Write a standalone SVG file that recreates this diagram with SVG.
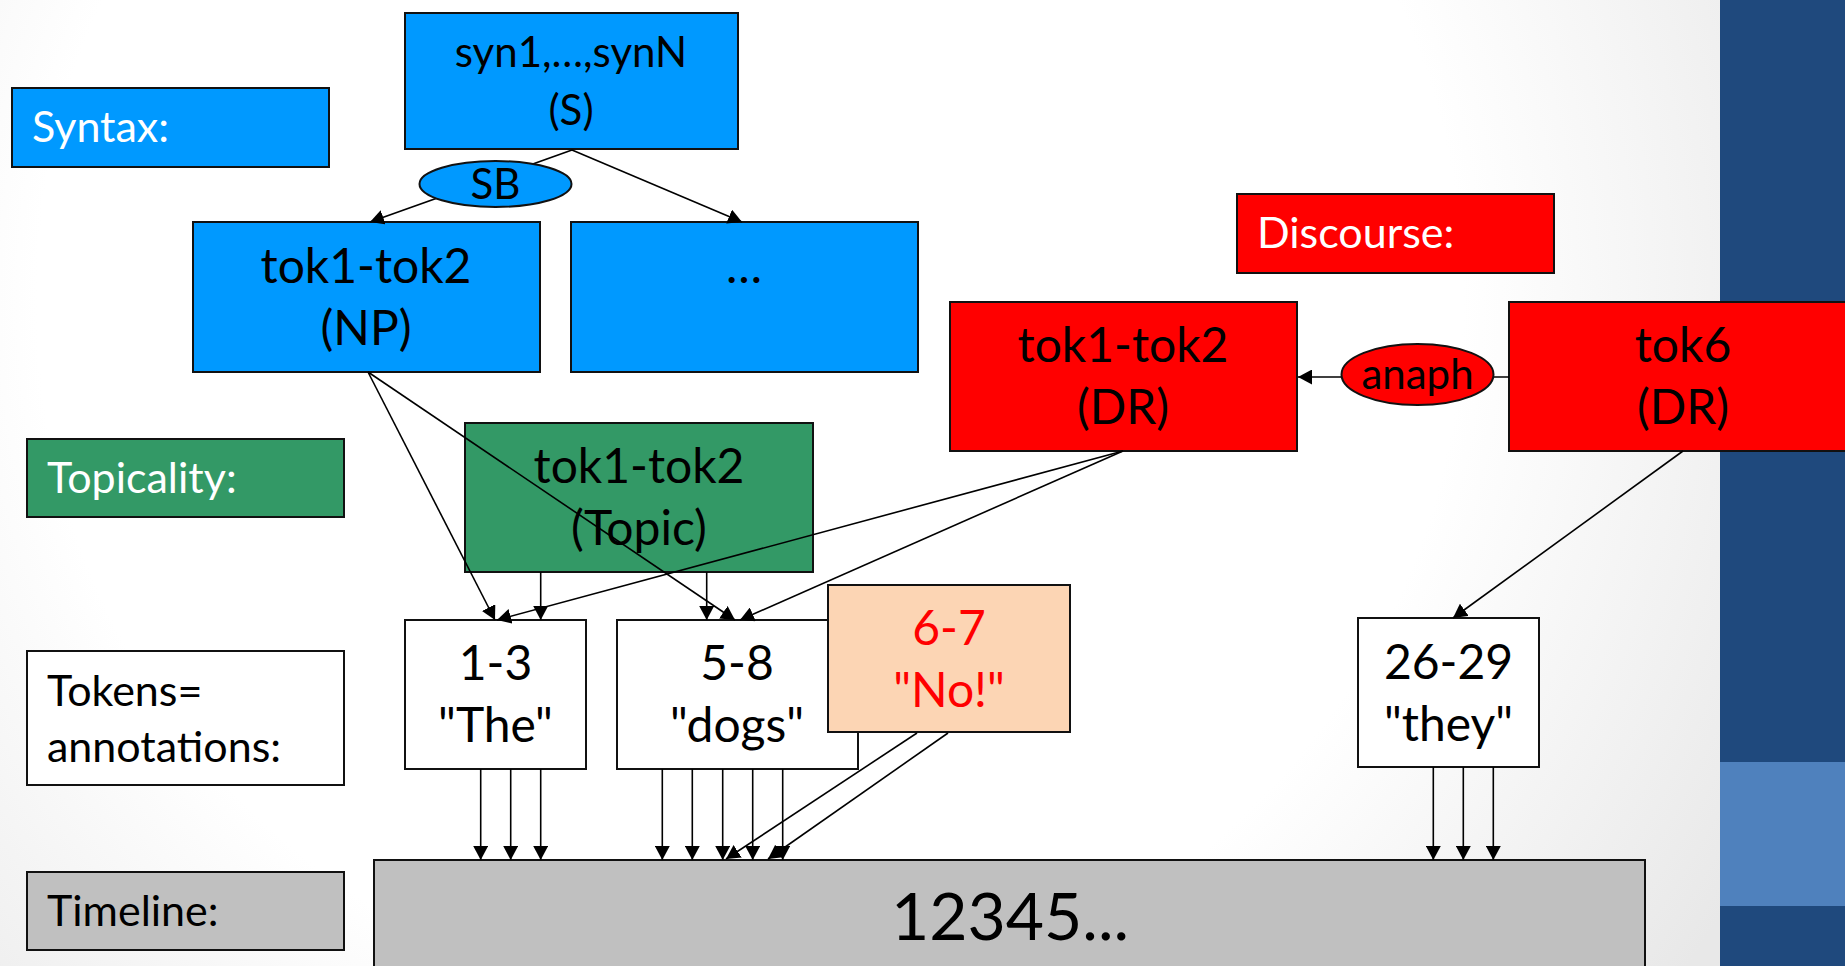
<svg xmlns="http://www.w3.org/2000/svg" width="1845" height="966" viewBox="0 0 1845 966">
<defs>
<radialGradient id="bg" cx="750" cy="300" r="1150" gradientUnits="userSpaceOnUse">
<stop offset="0" stop-color="#ffffff"/>
<stop offset="0.62" stop-color="#ffffff"/>
<stop offset="1" stop-color="#e8e8e8"/>
</radialGradient>
<marker id="ah" viewBox="0 0 14 15" refX="14" refY="7.5" markerWidth="14" markerHeight="15" markerUnits="userSpaceOnUse" orient="auto">
<path d="M0,0 L14,7.5 L0,15 z" fill="#000"/>
</marker>
</defs>
<style>
.box{stroke:#111;stroke-width:2}
.blue{fill:#0099FF}
.red{fill:#FF0000}
.green{fill:#339966}
.white{fill:#FFFFFF}
.gray{fill:#C0C0C0}
.peach{fill:#FCD5B4}
.lbl{font-family:Lato,"Open Sans",sans-serif;font-size:43px;fill:#fff}
.lblk{font-family:Lato,"Open Sans",sans-serif;font-size:43px;fill:#000}
.nt{font-family:Lato,"Open Sans",sans-serif;font-size:48px;fill:#000;text-anchor:middle}
.ntr{font-family:Lato,"Open Sans",sans-serif;font-size:48px;fill:#FF0000;text-anchor:middle}
.st{font-family:Lato,"Open Sans",sans-serif;font-size:42px;fill:#000;text-anchor:middle}
.tl{font-family:Lato,"Open Sans",sans-serif;font-size:66px;fill:#000;text-anchor:middle}
.edge{stroke:#000;stroke-width:1.6;fill:none;marker-end:url(#ah)}
</style>
<rect x="0" y="0" width="1845" height="966" fill="url(#bg)"/>
<rect x="1720" y="0" width="125" height="966" fill="#1F497D"/>
<rect x="1720" y="762" width="125" height="144" fill="#4F81BD"/>

<g id="label-syntax"><rect class="box blue" x="12" y="88" width="317" height="79"/><text class="lbl" x="32" y="142">Syntax:</text></g>
<g id="label-topicality"><rect class="box green" x="27" y="439" width="317" height="78"/><text class="lbl" x="47" y="493">Topicality:</text></g>
<g id="label-tokens"><rect class="box white" x="27" y="651" width="317" height="134"/><text class="lblk" x="47" y="706">Tokens=</text><text class="lblk" x="47" y="762">annotations:</text></g>
<g id="label-timeline"><rect class="box gray" x="27" y="872" width="317" height="78"/><text class="lblk" x="47" y="926">Timeline:</text></g>
<g id="label-discourse"><rect class="box red" x="1237" y="194" width="317" height="79"/><text class="lbl" x="1257" y="248">Discourse:</text></g>

<g id="node-s"><rect class="box blue" x="405" y="13" width="333" height="136"/><text class="st" x="571" y="67">syn1,…,synN</text><text class="st" x="571" y="125">(S)</text></g>
<g id="node-np"><rect class="box blue" x="193" y="222" width="347" height="150"/><text class="nt" x="366" y="283">tok1-tok2</text><text class="nt" x="366" y="345">(NP)</text></g>
<g id="node-more"><rect class="box blue" x="571" y="222" width="347" height="150"/><text class="nt" x="744" y="283">…</text></g>
<g id="node-dr1"><rect class="box red" x="950" y="302" width="347" height="149"/><text class="nt" x="1123" y="362">tok1-tok2</text><text class="nt" x="1123" y="424">(DR)</text></g>
<g id="node-dr6"><rect class="box red" x="1509" y="302" width="350" height="149"/><text class="nt" x="1683" y="362">tok6</text><text class="nt" x="1683" y="424">(DR)</text></g>
<g id="node-topic"><rect class="box green" x="465" y="423" width="348" height="149"/><text class="nt" x="639" y="483">tok1-tok2</text><text class="nt" x="639" y="545">(Topic)</text></g>
<g id="node-t13"><rect class="box white" x="405" y="620" width="181" height="149"/><text class="nt" x="495.5" y="680">1-3</text><text class="nt" x="495.5" y="742">"The"</text></g>
<g id="node-t58"><rect class="box white" x="617" y="620" width="241" height="149"/><text class="nt" x="737" y="680">5-8</text><text class="nt" x="737" y="742">"dogs"</text></g>
<g id="node-t67"><rect class="box peach" x="828" y="585" width="242" height="147"/><text class="ntr" x="949" y="645">6-7</text><text class="ntr" x="949" y="707">"No!"</text></g>
<g id="node-t2629"><rect class="box white" x="1358" y="618" width="181" height="149"/><text class="nt" x="1448.5" y="679">26-29</text><text class="nt" x="1448.5" y="741">"they"</text></g>
<g id="node-timeline"><rect class="box gray" x="374" y="860" width="1271" height="120"/><text class="tl" x="1010" y="940">12345...</text></g>

<g id="connectors">
<line class="edge" x1="572" y1="150" x2="370" y2="222"/>
<line class="edge" x1="572" y1="150" x2="742" y2="222"/>
<line class="edge" x1="368" y1="372" x2="495" y2="620"/>
<line class="edge" x1="368" y1="372" x2="735" y2="620"/>
<line class="edge" x1="540.7" y1="572" x2="540.7" y2="620"/>
<line class="edge" x1="706.7" y1="572" x2="706.7" y2="620"/>
<line class="edge" x1="1123" y1="451" x2="497" y2="620"/>
<line class="edge" x1="1123" y1="451" x2="740" y2="620"/>
<line class="edge" x1="1683" y1="451" x2="1453" y2="618"/>
<line class="edge" x1="1509" y1="377" x2="1298" y2="377"/>
<line class="edge" x1="480.7" y1="769" x2="480.7" y2="860"/>
<line class="edge" x1="510.7" y1="769" x2="510.7" y2="860"/>
<line class="edge" x1="540.7" y1="769" x2="540.7" y2="860"/>
<line class="edge" x1="662.3" y1="769" x2="662.3" y2="860"/>
<line class="edge" x1="692.3" y1="769" x2="692.3" y2="860"/>
<line class="edge" x1="722.7" y1="769" x2="722.7" y2="860"/>
<line class="edge" x1="752.7" y1="769" x2="752.7" y2="860"/>
<line class="edge" x1="782.7" y1="769" x2="782.7" y2="860"/>
<line class="edge" x1="917" y1="733" x2="726" y2="859"/>
<line class="edge" x1="948" y1="733" x2="768" y2="859"/>
<line class="edge" x1="1433.3" y1="767" x2="1433.3" y2="860"/>
<line class="edge" x1="1463.3" y1="767" x2="1463.3" y2="860"/>
<line class="edge" x1="1493.3" y1="767" x2="1493.3" y2="860"/>
</g>
<g id="edge-label-sb"><ellipse class="box blue" cx="495.5" cy="184" rx="76" ry="23"/><text class="st" x="495.5" y="199">SB</text></g>
<g id="edge-label-anaph"><ellipse class="box red" cx="1417.5" cy="374.5" rx="76" ry="30.5"/><text class="st" x="1417.5" y="389">anaph</text></g>
</svg>
